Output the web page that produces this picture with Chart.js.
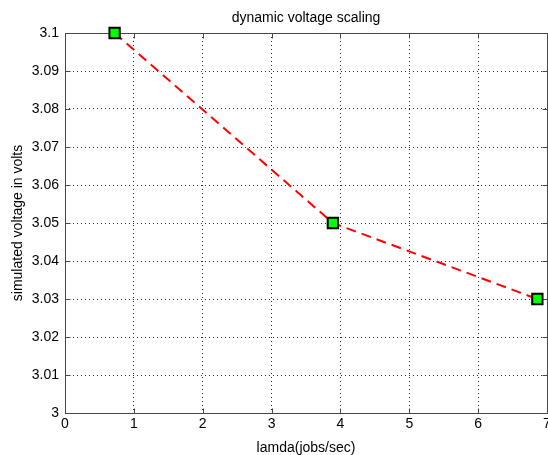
<!DOCTYPE html>
<html>
<head>
<meta charset="utf-8">
<script src="https://cdn.jsdelivr.net/npm/chart.js@4/dist/chart.umd.min.js"></script>
<style>
  html, body { margin: 0; padding: 0; background: #fff; overflow: hidden; width: 548px; height: 455px; }
  #wrap { width: 600px; height: 455px; }
  canvas { display: block; }
</style>
</head>
<body>
<div id="wrap"><canvas id="c" width="600" height="455"></canvas></div>
<script>
const lambdaValues = [0.72, 3.89, 6.86];
const voltageValues = [3.1, 3.05, 3.03];
const xTickLabels = ['0', '1', '2', '3', '4', '5', '6', '7'];
const yTickLabels = ['3', '3.01', '3.02', '3.03', '3.04', '3.05', '3.06', '3.07', '3.08', '3.09', '3.1'];
const chartTitle = 'dynamic voltage scaling';
const xTitle = 'lamda(jobs/sec)';
const yTitle = 'simulated voltage in volts';

const FONT = "'Liberation Sans', Arial, Helvetica, sans-serif";

const points = lambdaValues.map((x, i) => ({ x: x, y: voltageValues[i] }));

const boxAndTicks = {
  id: 'boxAndTicks',
  beforeDatasetsDraw(chart) {
    const { ctx, chartArea: a, scales } = chart;
    const L = Math.round(a.left) + 0.5, R = Math.round(a.right) + 0.5;
    const T = Math.round(a.top) + 0.5, B = Math.round(a.bottom) + 0.5;
    ctx.save();
    ctx.strokeStyle = '#474747';
    ctx.lineWidth = 1;
    ctx.setLineDash([]);
    const tl = 5;
    ctx.beginPath();
    scales.x.ticks.forEach(t => {
      const px = Math.round(scales.x.getPixelForValue(t.value)) + 0.5;
      ctx.moveTo(px, B); ctx.lineTo(px, B - tl);
      ctx.moveTo(px, T); ctx.lineTo(px, T + tl);
    });
    scales.y.ticks.forEach(t => {
      const py = Math.round(scales.y.getPixelForValue(t.value)) + 0.5;
      ctx.moveTo(L, py); ctx.lineTo(L + tl, py);
      ctx.moveTo(R, py); ctx.lineTo(R - tl, py);
    });
    ctx.stroke();
    ctx.beginPath();
    ctx.rect(L, T, R - L, B - T);
    ctx.stroke();
    ctx.restore();
  }
};

new Chart(document.getElementById('c'), {
  type: 'scatter',
  data: {
    datasets: [{
      data: points,
      showLine: true,
      borderColor: '#ff0000',
      borderWidth: 2,
      borderDash: [10, 6],
      pointStyle: 'rect',
      pointRadius: 7.3,
      pointHoverRadius: 7.3,
      pointBackgroundColor: '#00ff00',
      pointBorderColor: '#000000',
      pointBorderWidth: 2,
      clip: false,
      tension: 0
    }]
  },
  plugins: [boxAndTicks],
  options: {
    responsive: false,
    animation: false,
    devicePixelRatio: 1,
    layout: { padding: { left: 0, right: 53, top: 0, bottom: 0 } },
    plugins: {
      legend: { display: false },
      tooltip: { enabled: false },
      title: {
        display: true,
        text: chartTitle,
        fullSize: false,
        color: '#000',
        font: { family: FONT, size: 14, weight: 'normal', lineHeight: 1.2 },
        padding: { top: 10, bottom: 6.2 }
      }
    },
    scales: {
      x: {
        type: 'linear',
        min: 0, max: 7,
        afterFit(s) { s.height = 42; },
        afterBuildTicks(s) { s.ticks = xTickLabels.map(v => ({ value: Number(v) })); },
        ticks: {
          stepSize: 1,
          autoSkip: false,
          maxRotation: 0,
          padding: 3,
          color: '#000',
          font: { family: FONT, size: 14, lineHeight: 1.2 },
          callback: (v, i) => xTickLabels[i]
        },
        grid: { color: '#2a2a2a', lineWidth: 1, drawTicks: false },
        border: { display: false, dash: [1, 3] },
        title: {
          display: true,
          text: xTitle,
          color: '#000',
          font: { family: FONT, size: 14, lineHeight: 1.2 },
          padding: { top: 0, bottom: -2 }
        }
      },
      y: {
        type: 'linear',
        min: 3, max: 3.1,
        afterFit(s) { s.width = 65; },
        afterBuildTicks(s) { s.ticks = yTickLabels.map(v => ({ value: Number(v) })); },
        ticks: {
          stepSize: 0.01,
          autoSkip: false,
          padding: 6,
          color: '#000',
          font: { family: FONT, size: 14, lineHeight: 1.2 },
          callback: (v, i) => yTickLabels[i]
        },
        grid: { color: '#2a2a2a', lineWidth: 1, drawTicks: false },
        border: { display: false, dash: [1, 3] },
        title: {
          display: true,
          text: yTitle,
          color: '#000',
          font: { family: FONT, size: 14, lineHeight: 1.2 },
          padding: { top: 10, bottom: 0 }
        }
      }
    }
  }
});
</script>
</body>
</html>
